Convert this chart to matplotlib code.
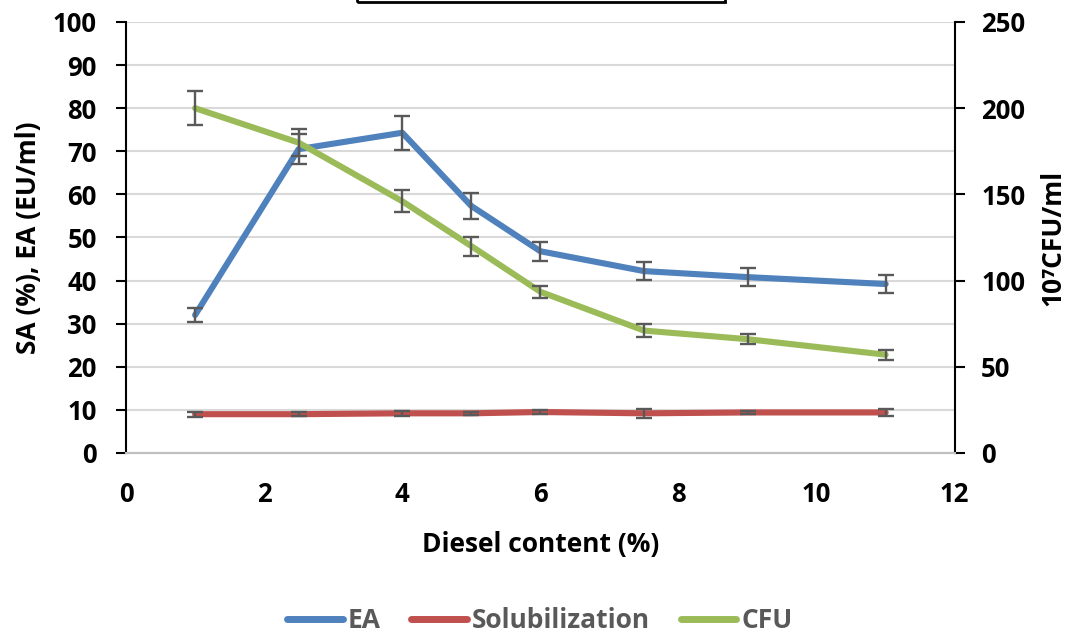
import matplotlib
matplotlib.use("Agg")
import matplotlib.pyplot as plt
from matplotlib.patches import Rectangle

diesel = [1, 2.5, 4, 5, 6, 7.5, 9, 11]
ea = [32.0, 70.5, 74.3, 57.3, 46.8, 42.2, 40.8, 39.2]
ea_err = [1.6, 3.5, 4.0, 3.0, 2.2, 2.0, 2.1, 2.0]
sol = [9.0, 9.0, 9.2, 9.2, 9.5, 9.2, 9.4, 9.4]
sol_err = [0.6, 0.4, 0.6, 0.4, 0.4, 1.0, 0.4, 0.9]
cfu = [200.0, 180.0, 146.0, 120.0, 93.5, 71.0, 66.0, 57.0]
cfu_err = [10.0, 8.0, 6.5, 5.5, 3.5, 4.0, 3.0, 2.8]

FONT = ['Open Sans', 'DejaVu Sans']
plt.rcParams['font.family'] = FONT
plt.rcParams['font.weight'] = 'bold'

BLUE = '#4F81BD'
RED = '#C0504D'
GREEN = '#9BBB59'
ERR = '#595959'

fig = plt.figure(figsize=(10.8, 6.37), dpi=100)
ax = fig.add_axes([0.1167, 0.2889, 0.884 - 0.1167, 0.9655 - 0.2889])
ax2 = ax.twinx()

lw = 4.4
ekw = dict(ecolor=ERR, elinewidth=1.7, capsize=6, capthick=1.7)
l_ea, = ax.plot(diesel, ea, color=BLUE, lw=lw, solid_capstyle='round', zorder=3, label='EA')
ax.errorbar(diesel, ea, yerr=ea_err, fmt='none', zorder=4, **ekw)
l_sol, = ax.plot(diesel, sol, color=RED, lw=lw, solid_capstyle='round', zorder=3, label='Solubilization')
ax.errorbar(diesel, sol, yerr=sol_err, fmt='none', zorder=4, **ekw)
l_cfu, = ax2.plot(diesel, cfu, color=GREEN, lw=lw, solid_capstyle='round', zorder=3, label='CFU')
ax2.errorbar(diesel, cfu, yerr=cfu_err, fmt='none', zorder=4, **ekw)

ax.set_xlim(0, 12)
ax.set_ylim(0, 100)
ax2.set_ylim(0, 250)
ax.set_xticks(range(0, 13, 2))
ax.set_yticks(range(0, 101, 10))
ax2.set_yticks(range(0, 251, 50))

ax.yaxis.grid(True, color='#D9D9D9', lw=1.5)
ax.set_axisbelow(True)

for a in (ax, ax2):
    a.spines['top'].set_visible(False)
    a.spines['bottom'].set_color('#BFBFBF')
    a.spines['bottom'].set_linewidth(1.5)
ax.spines['left'].set_color('black')
ax.spines['left'].set_linewidth(1.5)
ax.spines['right'].set_visible(False)
ax2.spines['left'].set_visible(False)
ax2.spines['right'].set_color('black')
ax2.spines['right'].set_linewidth(1.5)

TS = 18.5
ax.tick_params(axis='x', length=0, pad=20, labelsize=TS)
ax.tick_params(axis='y', length=7, width=1.5, pad=14, labelsize=TS, direction='out')
ax2.tick_params(axis='y', length=7, width=1.5, pad=12, labelsize=TS, direction='out')
for lab in ax.get_xticklabels() + ax.get_yticklabels() + ax2.get_yticklabels():
    lab.set_fontweight('bold')

LS = 19
ax.set_xlabel('Diesel content (%)', fontsize=LS, fontweight='bold', labelpad=17)
ax.set_ylabel('SA (%), EA (EU/ml)', fontsize=LS, fontweight='bold', labelpad=8)
ax2.set_ylabel('10\u2077CFU/ml', fontsize=LS, fontweight='bold', labelpad=10)

leg = fig.legend([l_ea, l_sol, l_cfu], ['EA', 'Solubilization', 'CFU'], loc='center',
                 bbox_to_anchor=(0.5, 1 - 621 / 637), ncol=3, frameon=False,
                 handlelength=2.1, columnspacing=1.15, handletextpad=0.2,
                 prop=dict(size=19, weight='bold'), labelcolor='#595959')
for h in leg.get_lines():
    h.set_linewidth(5)

fig.patches.append(Rectangle((357 / 1080, 1 - 2 / 637), (725 - 357) / 1080, 0.05,
                             transform=fig.transFigure, fill=False, edgecolor='black',
                             linewidth=2, clip_on=False))

fig.savefig('out.png', dpi=100)
